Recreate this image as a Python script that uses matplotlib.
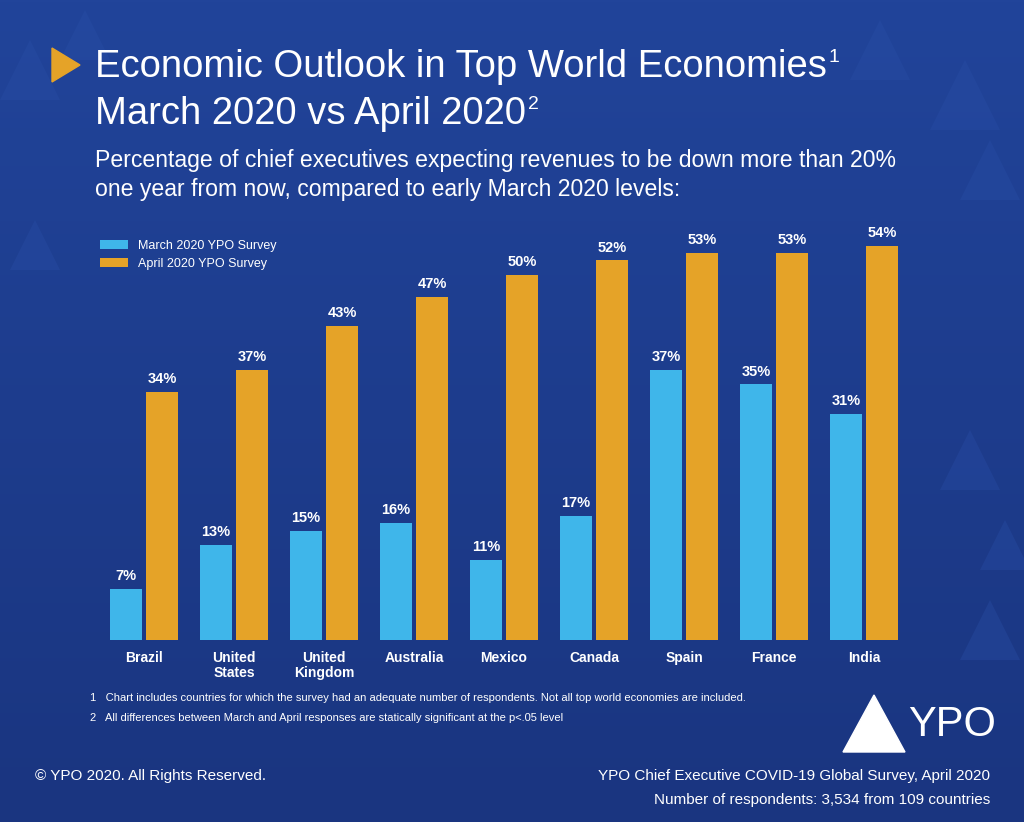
import matplotlib
matplotlib.use("Agg")
import matplotlib.pyplot as plt
import numpy as np

countries = ["Brazil", "United\nStates", "United\nKingdom", "Australia", "Mexico", "Canada", "Spain", "France", "India"]
march = [7, 13, 15, 16, 11, 17, 37, 35, 31]
april = [34, 37, 43, 47, 50, 52, 53, 53, 54]

BG = "#1e3c8c"
BLUE = "#3fb6ea"
ORANGE = "#e5a328"
W, H = 1024, 822
fig = plt.figure(figsize=(W/100, H/100), dpi=100, facecolor=BG)

bg = fig.add_axes([0, 0, 1, 1]); bg.set_xlim(0, W); bg.set_ylim(H, 0); bg.axis("off")
bg.imshow(np.linspace(0, 1, 256).reshape(-1, 1), extent=[0, W, H, 0], cmap=matplotlib.colors.LinearSegmentedColormap.from_list("g", ["#21449a", "#1a3580"]), aspect="auto")
for (x, y, s) in [(0, 40, 60), (60, 10, 50), (850, 20, 60), (930, 60, 70), (960, 140, 60), (10, 220, 50), (940, 430, 60), (980, 520, 50), (960, 600, 60)]:
    bg.add_patch(plt.Polygon([[x, y + s], [x + s/2, y], [x + s, y + s]], color="#2a4fa8", alpha=0.35, lw=0))

ax = fig.add_axes([105/W, 1 - 640/H, 805/W, 438/H])
ax.set_facecolor("none")
x = np.arange(len(countries))
bw = 0.356
b1 = ax.bar(x - 0.2, march, bw, color=BLUE, label="March 2020 YPO Survey")
b2 = ax.bar(x + 0.2, april, bw, color=ORANGE, label="April 2020 YPO Survey")
for bars, vals in ((b1, march), (b2, april)):
    for r, v in zip(bars, vals):
        ax.text(r.get_x() + r.get_width()/2, v + 0.8, f"{v}%", ha="center", va="bottom", color="white", fontsize=10.5, fontweight="bold", family="Liberation Sans")
ax.set_xlim(-0.433, 8.51)
ax.set_ylim(0, 60)
ax.set_yticks([])
ax.set_xticks(x)
ax.set_xticklabels(countries, color="white", fontsize=10, fontweight="bold", family="Liberation Sans", linespacing=1.1)
ax.tick_params(axis="x", length=0, pad=8)
for s in ["top", "right", "left", "bottom"]:
    ax.spines[s].set_visible(False)
ax.legend(loc="upper left", bbox_to_anchor=(-0.012, 0.925), frameon=False, labelcolor="white",
          handlelength=2.2, handleheight=0.7, borderaxespad=0, prop={"family": "Liberation Sans", "size": 9})

fig.patches.append(plt.Polygon([[52/W, 1-48/H], [52/W, 1-82/H], [80/W, 1-65/H]], closed=True, transform=fig.transFigure, color=ORANGE))
fig.text(95/W, 1-67/H, "Economic Outlook in Top World Economies", color="white", fontsize=27.5, va="center", family="Liberation Sans")
fig.text(829/W, 1-57/H, "1", color="white", fontsize=14, va="center", family="Liberation Sans")
fig.text(95/W, 1-114/H, "March 2020 vs April 2020", color="white", fontsize=27.5, va="center", family="Liberation Sans")
fig.text(528/W, 1-104/H, "2", color="white", fontsize=14, va="center", family="Liberation Sans")
fig.text(95/W, 1-175/H, "Percentage of chief executives expecting revenues to be down more than 20%\none year from now, compared to early March 2020 levels:",
         color="white", fontsize=16.6, va="center", family="Liberation Sans", linespacing=1.35)

fig.text(90/W, 1-698/H, "1   Chart includes countries for which the survey had an adequate number of respondents. Not all top world economies are included.", color="white", fontsize=8, va="center", family="Liberation Sans")
fig.text(90/W, 1-718/H, "2   All differences between March and April responses are statically significant at the p<.05 level", color="white", fontsize=8, va="center", family="Liberation Sans")
fig.text(35/W, 1-776/H, "© YPO 2020. All Rights Reserved.", color="white", fontsize=11, va="center", family="Liberation Sans")
fig.text(990/W, 1-776/H, "YPO Chief Executive COVID-19 Global Survey, April 2020", color="white", fontsize=11, va="center", ha="right", family="Liberation Sans")
fig.text(990/W, 1-800/H, "Number of respondents: 3,534 from 109 countries", color="white", fontsize=11, va="center", ha="right", family="Liberation Sans")

fig.patches.append(plt.Polygon([[843/W, 1-752/H], [905/W, 1-752/H], [874/W, 1-695/H]], closed=True, transform=fig.transFigure, color="white"))
fig.text(908/W, 1-725/H, "YPO", color="white", fontsize=30, va="center", family="Liberation Sans")

fig.savefig("out.png", dpi=100, facecolor=BG)
